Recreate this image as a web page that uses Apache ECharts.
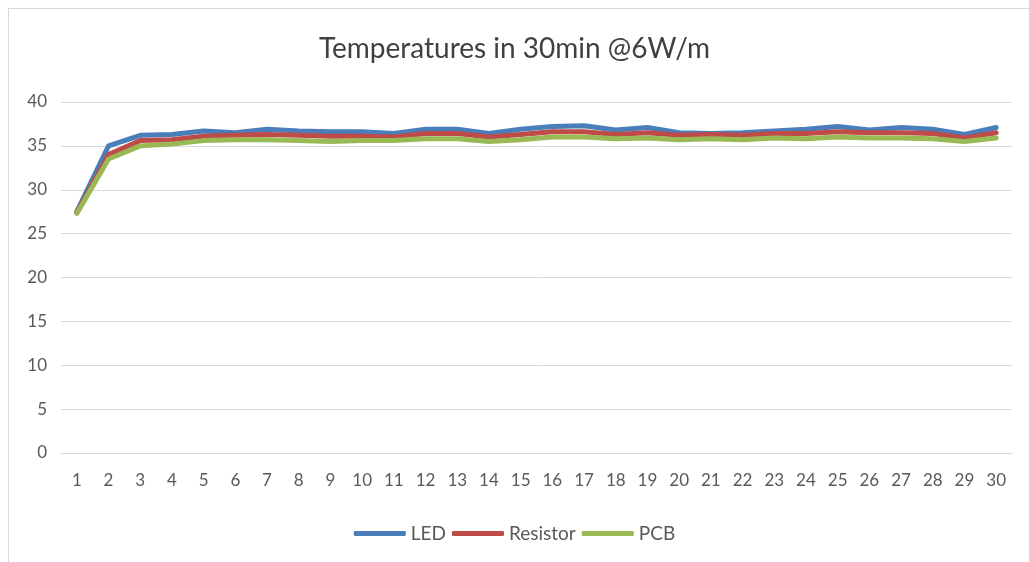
<!DOCTYPE html>
<html>
<head>
<meta charset="utf-8">
<script src="https://cdn.jsdelivr.net/npm/echarts@6/dist/echarts.min.js"></script>
<style>
  html, body { margin: 0; padding: 0; background: #fff; }
  #frame { position: absolute; left: 8px; top: 8px; width: 1030px; height: 560px; border: 1px solid #d9d9d9; box-sizing: border-box; }
  #chart { position: absolute; left: 0; top: 0; width: 1029px; height: 562px; }
</style>
</head>
<body>
<div id="frame"></div>
<div id="chart"></div>
<script>
var minutes = [];
for (var i = 1; i <= 30; i++) minutes.push(String(i));

var led = [27.5, 35.0, 36.2, 36.3, 36.7, 36.5, 36.9, 36.7, 36.6, 36.6,
           36.4, 36.9, 36.9, 36.4, 36.9, 37.2, 37.3, 36.8, 37.1, 36.5,
           36.4, 36.5, 36.7, 36.9, 37.2, 36.8, 37.1, 36.9, 36.3, 37.1];
var resistor = [27.4, 34.0, 35.6, 35.7, 36.1, 36.2, 36.3, 36.2, 36.1, 36.1,
                36.0, 36.4, 36.4, 36.0, 36.3, 36.6, 36.6, 36.3, 36.5, 36.2,
                36.3, 36.2, 36.4, 36.4, 36.6, 36.5, 36.5, 36.4, 35.9, 36.5];
var pcb = [27.3, 33.5, 35.0, 35.2, 35.6, 35.7, 35.7, 35.6, 35.5, 35.6,
           35.6, 35.8, 35.8, 35.5, 35.7, 36.0, 36.0, 35.8, 35.9, 35.7,
           35.8, 35.7, 35.9, 35.8, 36.0, 35.9, 35.9, 35.8, 35.5, 35.9];

var font = 'Lato, "Open Sans", sans-serif';
var txt = '#595959';

function mkSeries(name, data, color) {
    return {
        name: name,
        type: 'line',
        data: data,
        symbol: 'none',
        lineStyle: {color: color, width: 5, cap: 'round', join: 'round'},
        itemStyle: {color: color}
    };
}

var chart = echarts.init(document.getElementById('chart'));
chart.setOption({
    animation: false,
    title: {
        text: 'Temperatures in 30min @6W/m',
        left: 'center',
        top: 30,
        textStyle: {fontFamily: font, fontSize: 28, fontWeight: 'normal', color: '#404040'}
    },
    legend: {
        bottom: 14,
        left: 'center',
        itemWidth: 52,
        itemHeight: 5,
        itemGap: 6,
        icon: 'roundRect',
        textStyle: {fontFamily: font, fontSize: 19, color: txt},
        data: ['LED', 'Resistor', 'PCB']
    },
    grid: {left: 61, right: 17, top: 102, bottom: 109},
    xAxis: {
        type: 'category',
        data: minutes,
        boundaryGap: true,
        axisLine: {lineStyle: {color: '#d9d9d9', width: 1}},
        axisTick: {show: false},
        axisLabel: {fontFamily: font, fontSize: 17, color: txt, margin: 19}
    },
    yAxis: {
        type: 'value',
        min: 0,
        max: 40,
        interval: 5,
        axisLine: {show: false},
        axisTick: {show: false},
        splitLine: {lineStyle: {color: '#d9d9d9', width: 1}},
        axisLabel: {fontFamily: font, fontSize: 17, color: txt, margin: 14}
    },
    series: [
        mkSeries('LED', led, '#4a7ebb'),
        mkSeries('Resistor', resistor, '#be4b48'),
        mkSeries('PCB', pcb, '#98b954')
    ]
});
</script>
</body>
</html>
